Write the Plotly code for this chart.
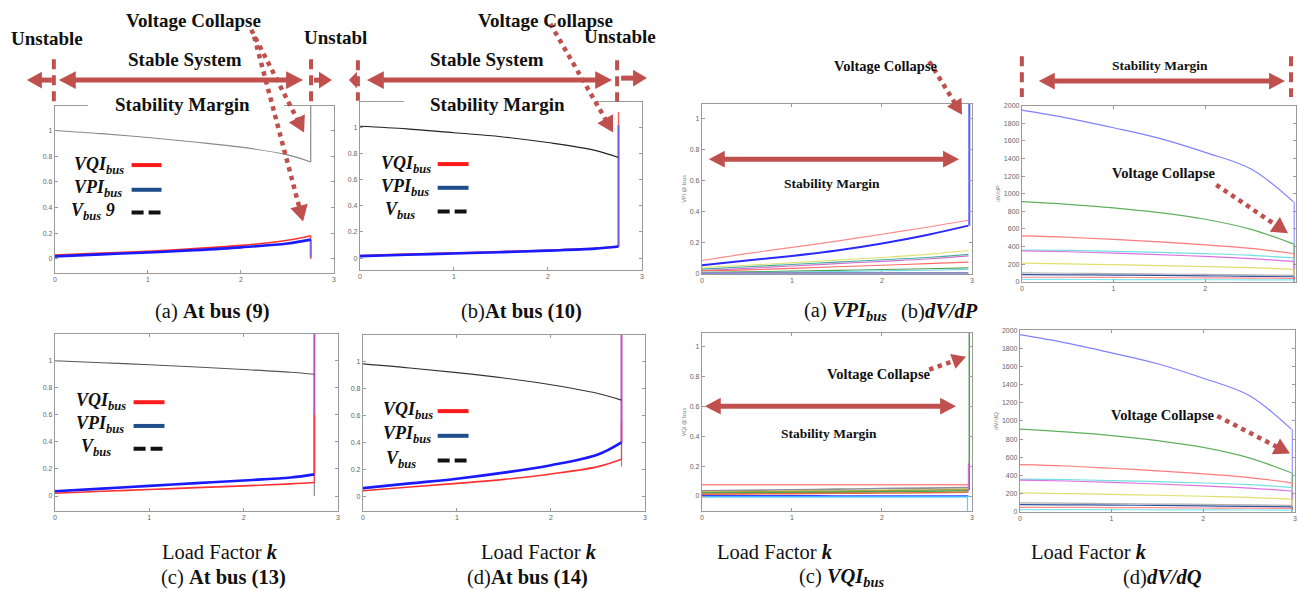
import math
import plotly.graph_objects as go

W, H = 1298, 590

# ---------------- DATA ----------------
k_bus = [0, 0.5, 1.0, 1.5, 2.0, 2.5, 2.75]          # load factor samples (bus panels)
k_collapse_bus = 2.75

# (a) bus 9
v_bus9 = [1.0, 0.975, 0.945, 0.91, 0.87, 0.81, 0.755]
vqi_bus9 = [0.03, 0.045, 0.06, 0.08, 0.105, 0.145, 0.18]
vpi_bus9 = [0.02, 0.035, 0.05, 0.068, 0.09, 0.12, 0.15]
# (b) bus 10
v_bus10 = [1.01, 0.99, 0.96, 0.93, 0.885, 0.825, 0.77]
vqi_bus10 = [0.02, 0.03, 0.04, 0.05, 0.06, 0.075, 0.09]
vpi_bus10 = [0.015, 0.025, 0.035, 0.045, 0.057, 0.072, 0.088]
# (c) bus 13
v_bus13 = [1.0, 0.985, 0.97, 0.953, 0.935, 0.915, 0.9]
vqi_bus13 = [0.02, 0.035, 0.048, 0.062, 0.075, 0.09, 0.1]
vpi_bus13 = [0.035, 0.055, 0.075, 0.095, 0.115, 0.137, 0.16]
# (d) bus 14
v_bus14 = [0.985, 0.955, 0.92, 0.88, 0.83, 0.765, 0.715]
vqi_bus14 = [0.04, 0.068, 0.095, 0.125, 0.165, 0.22, 0.275]
vpi_bus14 = [0.06, 0.095, 0.13, 0.175, 0.23, 0.31, 0.4]

# values reached by the vertical jumps at collapse: [V, VQI, VPI]
jump_bus9 = [1.19, 0.0, 0.01]
jump_bus10 = [0.77, 1.12, 1.02]
jump_bus13 = [0.0, 0.6, 1.2]
jump_bus14 = [0.22, 0.55, 1.2]

# all-bus panels
k_all = [0, 0.5, 1.0, 1.5, 2.0, 2.5, 2.96]
k_collapse_all = 2.97
vpi_all = {
    "#ff8a8a": [0.085, 0.13, 0.17, 0.21, 0.255, 0.30, 0.345],
    "#e0e070": [0.04, 0.055, 0.07, 0.088, 0.105, 0.125, 0.15],
    "#3fb0a0": [0.03, 0.045, 0.06, 0.075, 0.09, 0.105, 0.125],
    "#d070d0": [0.02, 0.035, 0.05, 0.065, 0.08, 0.095, 0.115],
    "#ff6a6a": [0.02, 0.025, 0.035, 0.045, 0.055, 0.065, 0.075],
    "#50a050": [0.01, 0.013, 0.017, 0.022, 0.027, 0.032, 0.038],
    "#70d8e8": [0.005, 0.008, 0.011, 0.015, 0.019, 0.023, 0.028],
    "#a8a8a8": [0.008, 0.008, 0.008, 0.008, 0.008, 0.008, 0.008],
    "#4040d0": [0.003, 0.003, 0.003, 0.003, 0.003, 0.003, 0.003],
}
vpi_main = [0.055, 0.085, 0.115, 0.15, 0.195, 0.25, 0.31]
vpi_main_jump = 1.1

vqi_all = {
    "#ff8a8a": [0.075, 0.075, 0.075, 0.075, 0.075, 0.075, 0.075],
    "#909090": [0.035, 0.038, 0.042, 0.046, 0.05, 0.053, 0.057],
    "#a8a840": [0.025, 0.028, 0.031, 0.034, 0.037, 0.04, 0.045],
    "#50a050": [0.02, 0.022, 0.024, 0.026, 0.029, 0.032, 0.035],
    "#e07040": [0.012, 0.014, 0.016, 0.018, 0.02, 0.022, 0.025],
    "#4040ff": [0.002, 0.002, 0.002, 0.0, 0.0, 0.0, 0.0],
    "#40b8ff": [-0.005, -0.005, -0.005, -0.005, -0.005, -0.005, -0.005],
}
vqi_jump_green = 1.2
vqi_jump_magenta = 0.22

dvdp_all = {
    "#8080ff": [1950, 1860, 1750, 1630, 1470, 1280, 910],
    "#60b060": [910, 880, 840, 785, 710, 595, 430],
    "#ff7a7a": [520, 505, 480, 452, 418, 378, 320],
    "#70e0e0": [360, 355, 345, 332, 318, 300, 270],
    "#e070e0": [350, 340, 325, 307, 287, 262, 230],
    "#e0e070": [210, 202, 193, 183, 172, 160, 140],
    "#b0b0b0": [100, 96, 92, 87, 82, 77, 72],
    "#3050a0": [80, 78, 75, 71, 66, 61, 56],
    "#ff9090": [50, 50, 48, 46, 43, 41, 38],
    "#80e8f0": [25, 25, 24, 23, 22, 21, 20],
}
dvdq_all = dict(dvdp_all)

y_ticks_bus = [0, 0.2, 0.4, 0.6, 0.8, 1]
y_ticks_dv = [0, 200, 400, 600, 800, 1000, 1200, 1400, 1600, 1800, 2000]
x_ticks = [0, 1, 2, 3]

# ---------------- HELPERS ----------------
def X(px):
    return px / W

def Y(py):
    return 1 - py / H

fig = go.Figure()

# panels: (x0, x1, ytop, ybottom) in pixels, xrange, yrange, yticks, ytitle
panels = [
    (53, 333, 103, 272, [0, 3], [-0.108, 1.192], y_ticks_bus, ""),
    (359, 642, 99, 269, [0, 3], [-0.09, 1.197], y_ticks_bus, ""),
    (53, 337, 334, 513, [0, 3], [-0.11, 1.197], y_ticks_bus, ""),
    (362, 645, 335, 513, [0, 3], [-0.11, 1.2], y_ticks_bus, ""),
    (702, 973, 101, 273, [0, 3], [0, 1.095], y_ticks_bus, "VPI @ bus"),
    (1023, 1298, 103, 281, [0, 2.99], [0, 2000], y_ticks_dv, "dV/dP"),
    (702, 973, 333, 513, [0, 3], [-0.1, 1.093], y_ticks_bus, "VQI @ bus"),
    (1021, 1297, 330, 514, [0, 3], [0, 2000], y_ticks_dv, "dV/dQ"),
]

axis_common = dict(showline=True, linecolor="#9a9a9a", linewidth=1, mirror="ticks",
                   ticks="inside", ticklen=3, tickcolor="#9a9a9a", showgrid=False,
                   zeroline=False, tickfont=dict(size=7, color="#666", family="Liberation Sans"))

for i, (x0, x1, yt, yb, xr, yr, yt_vals, ytitle) in enumerate(panels):
    n = "" if i == 0 else str(i + 1)
    fig.layout["xaxis" + n] = dict(domain=[X(x0), X(x1)], range=xr, tickvals=x_ticks,
                                   anchor="y" + n, **axis_common)
    fig.layout["yaxis" + n] = dict(domain=[Y(yb), Y(yt)], range=yr, tickvals=yt_vals,
                                   anchor="x" + n,
                                   title=dict(text=ytitle, font=dict(size=6, color="#777"), standoff=2),
                                   **axis_common)


def line(ax, x, y, color, width=1.2, shape="spline"):
    n = "" if ax == 1 else str(ax)
    fig.add_trace(go.Scatter(x=x, y=y, mode="lines", xaxis="x" + n, yaxis="y" + n,
                             line=dict(color=color, width=width, shape=shape),
                             showlegend=False, hoverinfo="skip"))


bus_sets = [
    (1, v_bus9, vqi_bus9, vpi_bus9, jump_bus9, "#8a8a8a"),
    (2, v_bus10, vqi_bus10, vpi_bus10, jump_bus10, "#222"),
    (3, v_bus13, vqi_bus13, vpi_bus13, jump_bus13, "#555"),
    (4, v_bus14, vqi_bus14, vpi_bus14, jump_bus14, "#333"),
]
for ax, v, vqi, vpi, jump, vcol in bus_sets:
    kc = k_collapse_bus
    line(ax, [kc, kc], [v[-1], jump[0]], "#8a8a8a", 1.2, "linear")
    if ax in (3, 4):
        line(ax, [kc, kc], [vpi[-1], jump[2]], "#c050c0", 2, "linear")
        line(ax, [kc, kc], [vqi[-1], jump[1]], "#ff4040", 1.2, "linear")
    else:
        line(ax, [kc, kc], [vqi[-1], jump[1]], "#ff6060", 1.5, "linear")
        line(ax, [kc, kc], [vpi[-1], jump[2]], "#8060e0", 2, "linear")
    line(ax, k_bus, v, vcol, 1.1)
    line(ax, k_bus, vqi, "#ff3030", 1.6)
    line(ax, k_bus, vpi, "#1a1aff", 2.6)

# VPI all buses
for col, vals in vpi_all.items():
    line(5, k_all, vals, col, 1.1)
line(5, k_all, vpi_main, "#2a2aff", 2.0)
line(5, [k_collapse_all, k_collapse_all], [vpi_main[-1], vpi_main_jump + 0.1], "#5a5aff", 2.0, "linear")

# VQI all buses
for col, vals in vqi_all.items():
    line(7, k_all, vals, col, 1.6)
line(7, [k_collapse_all, k_collapse_all], [0.04, vqi_jump_green], "#50a050", 1.5, "linear")
line(7, [k_collapse_all - 0.01, k_collapse_all - 0.01], [0.03, vqi_jump_magenta], "#d070d0", 1.2, "linear")
line(7, [k_collapse_all - 0.02, k_collapse_all - 0.02], [-0.1, 0.0], "#40d8ff", 1.2, "linear")

# dV/dP and dV/dQ
for ax, data in ((6, dvdp_all), (8, dvdq_all)):
    for col, vals in data.items():
        line(ax, k_all, vals, col, 1.2)
        line(ax, [k_collapse_all, k_collapse_all], [vals[-1], 0], col, 1.0, "linear")

# ---------------- ANNOTATION GRAPHICS ----------------
RED = "#c0504d"
shapes = []


def seg(x0, y0, x1, y1, color=RED, width=5, dash=None):
    d = dict(type="line", xref="paper", yref="paper", x0=X(x0), y0=Y(y0), x1=X(x1), y1=Y(y1),
             line=dict(color=color, width=width), layer="above")
    if dash:
        d["line"]["dash"] = dash
    shapes.append(d)


def tri(tx, ty, ux, uy, hl, hw, color=RED):
    bx, by = tx - ux * hl, ty - uy * hl
    nx, ny = -uy, ux
    pts = [(tx, ty), (bx + nx * hw / 2, by + ny * hw / 2), (bx - nx * hw / 2, by - ny * hw / 2)]
    path = "M " + " L ".join(f"{X(px):.5f},{Y(py):.5f}" for px, py in pts) + " Z"
    shapes.append(dict(type="path", xref="paper", yref="paper", path=path,
                       fillcolor=color, line=dict(color=color, width=0), layer="above"))


def arrow(x0, y0, x1, y1, width=5, hl=17, hw=17, dash=None, both=False):
    L = math.hypot(x1 - x0, y1 - y0)
    ux, uy = (x1 - x0) / L, (y1 - y0) / L
    sx, sy = (x0 + ux * (hl - 2), y0 + uy * (hl - 2)) if both else (x0, y0)
    seg(sx, sy, x1 - ux * (hl - 2), y1 - uy * (hl - 2), width=width, dash=dash)
    tri(x1, y1, ux, uy, hl, hw)
    if both:
        tri(x0, y0, -ux, -uy, hl, hw)


DASHV = "10px,6px"
# white gaps in the top frame behind "Stability Margin"
for gx0, gx1 in ((86, 283), (403, 595)):
    shapes.append(dict(type="rect", xref="paper", yref="paper", x0=X(gx0), x1=X(gx1),
                       y0=Y(108), y1=Y(96), fillcolor="white", line=dict(width=0), layer="above"))

# panel (a)
seg(52, 56, 52, 99, width=4, dash=DASHV)
seg(310, 56, 310, 100, width=4, dash=DASHV)
arrow(50, 77, 25, 77, width=5, hl=15, hw=17)
arrow(57, 77, 302, 77, width=5, hl=17, hw=18, both=True)
arrow(313, 77, 331, 77, width=5, hl=13, hw=17)
arrow(250, 26, 303, 130, width=4.5, hl=16, hw=18, dash="dot")
arrow(253, 33, 302, 220, width=4.5, hl=16, hw=18, dash="dot")
# panel (b)
seg(357, 57, 357, 98, width=4, dash=DASHV)
seg(617, 57, 617, 99, width=4, dash=DASHV)
arrow(355, 77, 348, 77, width=5, hl=8, hw=17)
arrow(366, 77, 612, 77, width=5, hl=17, hw=18, both=True)
arrow(621, 75, 647, 75, width=5, hl=14, hw=17)
arrow(550, 20, 613, 130, width=4.5, hl=16, hw=18, dash="dot")
# VPI panel
arrow(930, 58, 963, 112, width=4.5, hl=15, hw=17, dash="dot")
arrow(709, 157, 960, 157, width=5, hl=16, hw=17, both=True)
# dV/dP panel
seg(1023, 53, 1023, 94, width=4, dash=DASHV)
seg(1293, 53, 1293, 94, width=4, dash=DASHV)
arrow(1040, 78, 1287, 78, width=5, hl=16, hw=17, both=True)
arrow(1218, 183, 1290, 232, width=4.5, hl=16, hw=18, dash="dot")
# VQI panel
arrow(930, 370, 967, 357, width=4.5, hl=14, hw=16, dash="dot")
arrow(705, 407, 957, 407, width=5, hl=16, hw=17, both=True)
# dV/dQ panel
arrow(1219, 417, 1292, 455, width=4.5, hl=16, hw=18, dash="dot")

# legend swatches inside bus panels
for lx0, lx1, ys in ((130, 160, (163, 188, 211)), (437, 468, (162, 186, 210)),
                     (132, 163, (403, 427, 450)), (437, 468, (412, 437, 462))):
    seg(lx0, ys[0], lx1, ys[0], color="#ff1a1a", width=4)
    seg(lx0, ys[1], lx1, ys[1], color="#1f4e8c", width=4)
    seg(lx0, ys[2], lx0 + 29, ys[2], color="#111", width=4, dash="12px,5px")

fig.update_layout(shapes=shapes)

# ---------------- TEXT ----------------
SERIF = "Liberation Serif"
anns = []


def txt(x, y, s, size=17, anchor="center", bg=None):
    a = dict(xref="paper", yref="paper", x=X(x), y=Y(y - 2), text=s, showarrow=False,
             xanchor=anchor, yanchor="middle", font=dict(family=SERIF, size=size, color="#111"))
    if bg:
        a["bgcolor"] = bg
        a["borderpad"] = 0
    anns.append(a)


B = lambda s: "<b>" + s + "</b>"
BIG = 19
# panel (a)
txt(45, 37, B("Unstable"), size=BIG)
txt(192, 19, B("Voltage Collapse"), size=BIG)
txt(184, 58, B("Stable System"), size=BIG)
txt(181, 104, B("Stability Margin"), size=BIG, bg="white")
txt(301, 36, B("Unstabl"), size=BIG, anchor="left")
# panel (b)
txt(545, 19, B("Voltage Collapse"), size=BIG)
txt(620, 35, B("Unstable"), size=BIG)
txt(487, 58, B("Stable System"), size=BIG)
txt(497, 104, B("Stability Margin"), size=BIG, bg="white")
# right panels
SM, VC = 13.5, 14.5
txt(887, 65, B("Voltage Collapse"), size=VC)
txt(833, 184, B("Stability Margin"), size=SM)
txt(1162, 64, B("Stability Margin"), size=SM)
txt(1166, 173, B("Voltage Collapse"), size=VC)
txt(880, 376, B("Voltage Collapse"), size=VC)
txt(830, 437, B("Stability Margin"), size=SM)
txt(1165, 418, B("Voltage Collapse"), size=VC)

# legends
VQI = "<b><i>VQI<sub>bus</sub></i></b>"
VPI = "<b><i>VPI<sub>bus</sub></i></b>"
VB = "<b><i>V<sub>bus</sub></i></b>"
txt(70, 165, VQI, size=18, anchor="left")
txt(70, 189, VPI, size=18, anchor="left")
txt(67, 212, VB + " <b><i>9</i></b>", size=18, anchor="left")
txt(378, 164, VQI, size=18, anchor="left")
txt(378, 188, VPI, size=18, anchor="left")
txt(382, 211, VB, size=18, anchor="left")
txt(72, 404, VQI, size=18, anchor="left")
txt(72, 428, VPI, size=18, anchor="left")
txt(77, 451, VB, size=18, anchor="left")
txt(380, 413, VQI, size=18, anchor="left")
txt(380, 438, VPI, size=18, anchor="left")
txt(383, 463, VB, size=18, anchor="left")

# captions
CAP = 20.5
txt(211, 313, "(a) " + B("At bus (9)"), size=CAP)
txt(521, 313, "(b)" + B("At bus (10)"), size=CAP)
txt(846, 313, "(a) " + VPI, size=CAP)
txt(940, 313, "(b)" + B("<i>dV/dP</i>"), size=CAP)
LF = "Load Factor " + B("<i>k</i>")
txt(219, 557, LF, size=CAP)
txt(222, 582, "(c) " + B("At bus (13)"), size=CAP)
txt(539, 557, LF, size=CAP)
txt(527, 582, "(d)" + B("At bus (14)"), size=CAP)
txt(775, 557, LF, size=CAP)
txt(843, 582, "(c) " + B("<i>VQI<sub>bus</sub></i>"), size=CAP)
txt(1090, 557, LF, size=CAP)
txt(1164, 582, "(d)" + B("<i>dV/dQ</i>"), size=CAP)

fig.update_layout(annotations=anns, width=W, height=H, margin=dict(l=0, r=0, t=0, b=0),
                  plot_bgcolor="white", paper_bgcolor="white", showlegend=False)

fig.write_html("out.html", config={"displayModeBar": False},
               post_script="document.body.style.margin='0';")
